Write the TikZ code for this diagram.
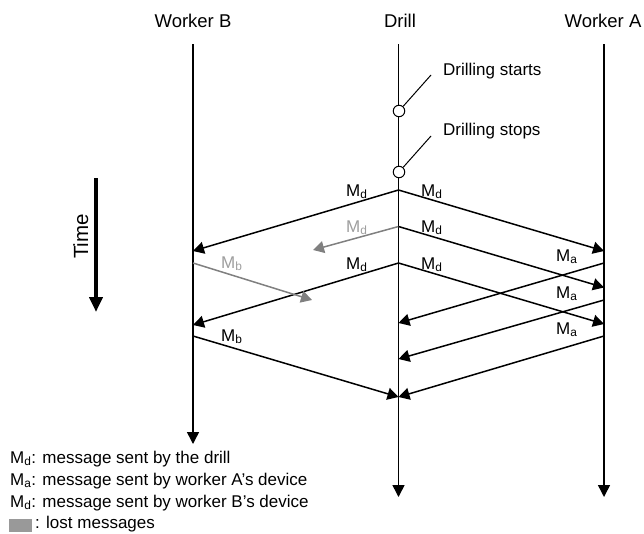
\documentclass[tikz,border=0pt]{standalone}
\usepackage{fontspec}
\setmainfont{Liberation Sans}
\usetikzlibrary{arrows.meta}
\definecolor{lost}{gray}{0.5}
\definecolor{lostlabel}{gray}{0.62}
\tikzset{
  x=1pt,y=-1pt,
  lifeline/.style={line width=1.5pt,-{Triangle[length=12pt,width=12pt]}},
  msg/.style={line width=1.5pt,-{Triangle[length=11pt,width=12pt]}},
  lostmsg/.style={msg,draw=lost,fill=lost},
  head/.style={inner sep=0pt,font=\fontsize{18.5}{20}\selectfont,anchor=base},
  lab/.style={inner sep=0pt,font=\fontsize{17}{20}\selectfont,anchor=base},
  event/.style={circle,draw,fill=white,line width=1pt,minimum size=11.5pt,inner sep=0pt},
  legend/.style={inner sep=0pt,anchor=base west,font=\fontsize{17}{20}\selectfont},
}
\newcommand{\Msg}[1]{M\textsubscript{#1}}
\begin{document}
\begin{tikzpicture}
\useasboundingbox (0,0) rectangle (644,533);
\node[head] (wb) at (193,27) {Worker B};
\node[head] (dr) at (400,27) {Drill};
\node[head] (wa) at (603,27) {Worker A};
\coordinate (bt) at (193,44); \coordinate (bb) at (193,444);
\coordinate (dt) at (398.5,44); \coordinate (db) at (398.5,497);
\coordinate (at) at (604,44); \coordinate (ab) at (604,497);
\draw[lifeline] (bt) -- (bb);
\draw[lifeline] (dt) -- (db);
\draw[lifeline] (at) -- (ab);
\node[event] (e1) at (399,111) {};
\node[event] (e2) at (399,172) {};
\node[lab,anchor=base west] (ls) at (443,75) {Drilling starts};
\node[lab,anchor=base west] (lp) at (443,135) {Drilling stops};
\coordinate (c1) at (431,75); \coordinate (c2) at (431,136);
\draw[line width=1pt] (e1) -- (c1);
\draw[line width=1pt] (e2) -- (c2);
% time arrow
\coordinate (t1) at (96,178); \coordinate (t2) at (96,312);
\draw[line width=4pt,-{Triangle[length=15pt,width=13pt]}] (t1) -- (t2);
\node[inner sep=0pt,font=\fontsize{20.5}{22}\selectfont,rotate=90,anchor=base] (time) at (88,236.5) {Time};
% drill messages
\coordinate (d1) at (398.5,190); \coordinate (d2) at (398.5,226.5); \coordinate (d3) at (398.5,263);
\coordinate (b1) at (193,251); \coordinate (b2) at (193,325);
\coordinate (a1) at (604,251); \coordinate (a2) at (604,287.5); \coordinate (a3) at (604,324);
\coordinate (g1) at (313,250); \coordinate (g2) at (312,300);
\draw[msg] (d1) -- (b1);
\draw[lostmsg] (d2) -- (g1);
\draw[msg] (d3) -- (b2);
\draw[msg] (d1) -- (a1);
\draw[msg] (d2) -- (a2);
\draw[msg] (d3) -- (a3);
% worker B
\coordinate (bs1) at (193,263); \coordinate (bs2) at (193,336);
\coordinate (de1) at (398.5,397);
\draw[lostmsg] (bs1) -- (g2);
\draw[msg] (bs2) -- (de1);
% worker A
\coordinate (as1) at (604,263); \coordinate (as2) at (604,300); \coordinate (as3) at (604,336);
\coordinate (de2) at (398.5,323); \coordinate (de3) at (398.5,359);
\draw[msg] (as1) -- (de2);
\draw[msg] (as2) -- (de3);
\draw[msg] (as3) -- (de1);
% labels
\node[lab,anchor=base west] (m1) at (346,196) {\Msg{d}};
\node[lab,anchor=base west,text=lostlabel] (m2) at (346,232) {\Msg{d}};
\node[lab,anchor=base west] (m3) at (346,269) {\Msg{d}};
\node[lab,anchor=base west] (m4) at (421,196) {\Msg{d}};
\node[lab,anchor=base west] (m5) at (421,232) {\Msg{d}};
\node[lab,anchor=base west] (m6) at (421,269) {\Msg{d}};
\node[lab,anchor=base west] (m7) at (556,261) {\Msg{a}};
\node[lab,anchor=base west] (m8) at (556,298) {\Msg{a}};
\node[lab,anchor=base west] (m9) at (556,334) {\Msg{a}};
\node[lab,anchor=base west,text=lostlabel] (m10) at (221,268) {\Msg{b}};
\node[lab,anchor=base west] (m11) at (221,341) {\Msg{b}};
% legend
\node[legend] (l1) at (10,463) {\Msg{d}: message sent by the drill};
\node[legend] (l2) at (10,485) {\Msg{a}: message sent by worker A’s device};
\node[legend] (l3) at (10,507) {\Msg{d}: message sent by worker B’s device};
\node[legend] (l4) at (35,528) {: lost messages};
\fill[lost!80!white] (9,519) rectangle (32,532);
\end{tikzpicture}
\end{document}
